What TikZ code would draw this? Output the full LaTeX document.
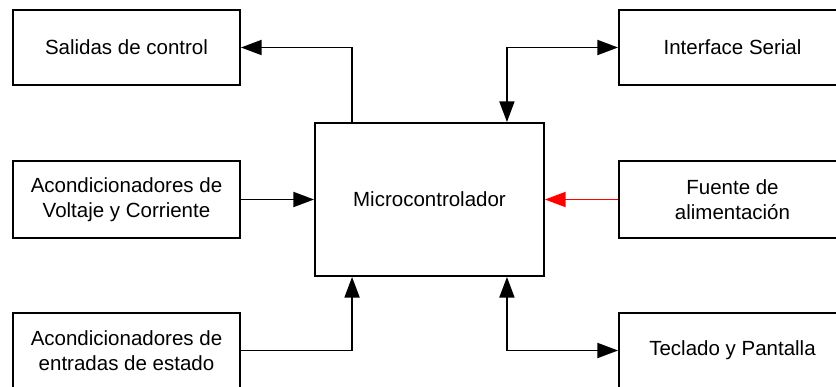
\documentclass[tikz,border=0pt]{standalone}
\usepackage{fontspec}
\setmainfont{Liberation Sans}
\usetikzlibrary{arrows.meta}

\tikzstyle{bloque} = [rectangle,draw,line width=1.6pt,minimum width=6.81cm,minimum height=2.25cm,align=center]
\tikzstyle{every node}=[font=\fontsize{17.5}{21}\selectfont]
\tikzstyle{flecha} = [line width=1.6pt,-{Triangle[length=0.62cm,width=0.45cm]}]
\tikzstyle{doble} = [line width=1.6pt,{Triangle[length=0.62cm,width=0.45cm]}-{Triangle[length=0.62cm,width=0.45cm]}]

\begin{document}
\begin{tikzpicture}[x=0.03cm,y=-0.03cm]
	\useasboundingbox (0,0) rectangle (836,386);
	\fill[white] (0,0) rectangle (836,386);
	\clip (0,0) rectangle (836,386);
	% bloque central
	\node[bloque,minimum width=6.87cm,minimum height=4.59cm] (micro) at (429.5,199.5) {Microcontrolador};
	% lado izquierdo
	\node[bloque] (sal) at (126.5,47.5) {Salidas de control};
	\node[bloque,minimum height=2.31cm] (volt) at (126.5,199.5) {Acondicionadores de\\Voltaje y Corriente};
	\node[bloque] (ent) at (126.5,350.5) {Acondicionadores de\\entradas de estado};
	% lado derecho
	\node[bloque] (ser) at (732.5,47.5) {Interface Serial};
	\node[bloque,minimum height=2.31cm] (fue) at (732.5,199.5) {Fuente de\\alimentaci\'on};
	\node[bloque] (tec) at (732.5,350.5) {Teclado y Pantalla};
	% conexiones
	\draw[flecha] ([xshift=1.14cm]micro.north west) |- (sal);
	\draw[doble] ([xshift=-1.14cm]micro.north east) |- (ser);
	\draw[flecha] (volt) -- (micro);
	\draw[flecha,red] (fue) -- (micro);
	\draw[flecha] (ent) -| ([xshift=1.14cm]micro.south west);
	\draw[doble] ([xshift=-1.14cm]micro.south east) |- (tec);
\end{tikzpicture}
\end{document}
